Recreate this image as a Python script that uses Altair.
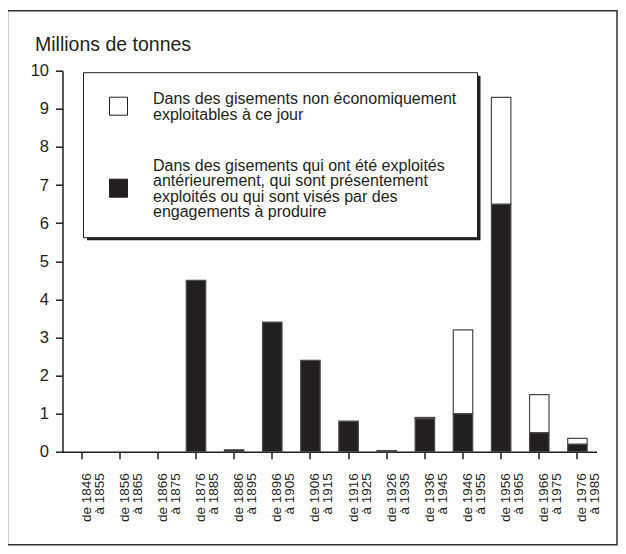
import altair as alt
import pandas as pd

# ---- data ----
periods = ["de 1846|à 1855", "de 1856|à 1865", "de 1866|à 1875", "de 1876|à 1885",
           "de 1886|à 1895", "de 1896|à 1905", "de 1906|à 1915", "de 1916|à 1925",
           "de 1926|à 1935", "de 1936|à 1945", "de 1946|à 1955", "de 1956|à 1965",
           "de 1966|à 1975", "de 1976|à 1985"]
exploited = [0, 0, 0, 4.5, 0.05, 3.4, 2.4, 0.8, 0.03, 0.87, 1.0, 6.5, 0.5, 0.2]
non_economic = [0, 0, 0, 0, 0, 0, 0, 0, 0, 0.03, 2.2, 2.8, 1.0, 0.15]
series_names = [
    "Dans des gisements non économiquement exploitables à ce jour",
    "Dans des gisements qui ont été exploités antérieurement, qui sont présentement exploités ou qui sont visés par des engagements à produire",
]
legend_lines = [
    ["Dans des gisements non économiquement", "exploitables à ce jour"],
    ["Dans des gisements qui ont été exploités", "antérieurement, qui sont présentement",
     "exploités ou qui sont visés par des", "engagements à produire"],
]
series_colors = ["#ffffff", "#231f20"]
y_ticks = list(range(0, 11))
y_title = "Millions de tonnes"

rows = []
for p, e, n in zip(periods, exploited, non_economic):
    rows.append({"period": p, "series": series_names[1], "value": e, "stackorder": 0})
    rows.append({"period": p, "series": series_names[0], "value": n, "stackorder": 1})
df = pd.DataFrame(rows)
df_leg = pd.DataFrame({"series": series_names, "lines": legend_lines})
one = pd.DataFrame({"k": [0]})

INK = "#231f20"
FONT = "Liberation Sans"
W, H = 534, 381

fill_scale = alt.Scale(domain=series_names, range=series_colors)

bars = alt.Chart(df).transform_filter("datum.value > 0").mark_bar(
    stroke="#4a4a4a", strokeWidth=1.2
).encode(
    x=alt.X("period:N", sort=periods,
            scale=alt.Scale(domain=periods, paddingInner=0.49, paddingOuter=0.245),
            axis=alt.Axis(title=None, labelExpr="split(datum.label, '|')",
                          labelAngle=270, labelAlign="right", labelBaseline="middle",
                          labelFontSize=13.5, labelLineHeight=13, labelPadding=14,
                          labelOffset=5, labelOverlap=False, tickSize=7)),
    y=alt.Y("value:Q", stack="zero",
            scale=alt.Scale(domain=[0, 10], nice=False),
            axis=alt.Axis(values=y_ticks, format="d", tickSize=7, labelPadding=7,
                          labelFontSize=16.5, title=y_title, titleAngle=0,
                          titleX=-28, titleY=-19.7, titleAlign="left",
                          titleBaseline="alphabetic", titleFontSize=19.5,
                          titleFontWeight="normal", titleColor=INK)),
    fill=alt.Fill("series:N", scale=fill_scale, legend=None),
    order=alt.Order("stackorder:Q"),
)

frame = alt.Chart(one).mark_rect(fill="white", fillOpacity=0, stroke="#333333",
                                 strokeWidth=1.5).encode(
    x=alt.value(-55), x2=alt.value(554.5), y=alt.value(-60), y2=alt.value(474))

shadow = alt.Chart(one).mark_rect(fill=INK).encode(
    x=alt.value(24.5), x2=alt.value(418), y=alt.value(5), y2=alt.value(169.5))
box = alt.Chart(one).mark_rect(fill="white", stroke=INK, strokeWidth=1).encode(
    x=alt.value(21), x2=alt.value(415), y=alt.value(2), y2=alt.value(167))

sym_y = [35.5, 117.5]
txt_y = [33.3, 99.8]
legend_layers = []
for i, name in enumerate(series_names):
    sub = alt.Chart(df_leg).transform_filter(alt.datum.series == name)
    legend_layers.append(sub.mark_point(shape="square", filled=True, size=324,
                                        stroke=INK, strokeWidth=1, opacity=1).encode(
        x=alt.value(56), y=alt.value(sym_y[i]),
        fill=alt.Fill("series:N", scale=fill_scale, legend=None)))
    legend_layers.append(sub.mark_text(align="left", baseline="alphabetic", fontSize=16,
                                       lineHeight=15.5, font=FONT, color=INK).encode(
        x=alt.value(90.5), y=alt.value(txt_y[i]), text=alt.Text("lines:N")))

chart = alt.layer(frame, bars, shadow, box, *legend_layers).properties(
    width=W, height=H,
    autosize=alt.AutoSizeParams(type="none"),
    padding={"left": 54.5, "top": 62.7, "right": 21.5, "bottom": 95.3},
    background="white",
).configure_view(stroke=None).configure_axis(
    grid=False, domainColor=INK, domainWidth=1.5, tickColor=INK, tickWidth=1.5,
    labelColor=INK, labelFont=FONT, titleFont=FONT,
)

chart.save("out.html", embed_options={"renderer": "svg", "actions": False})
